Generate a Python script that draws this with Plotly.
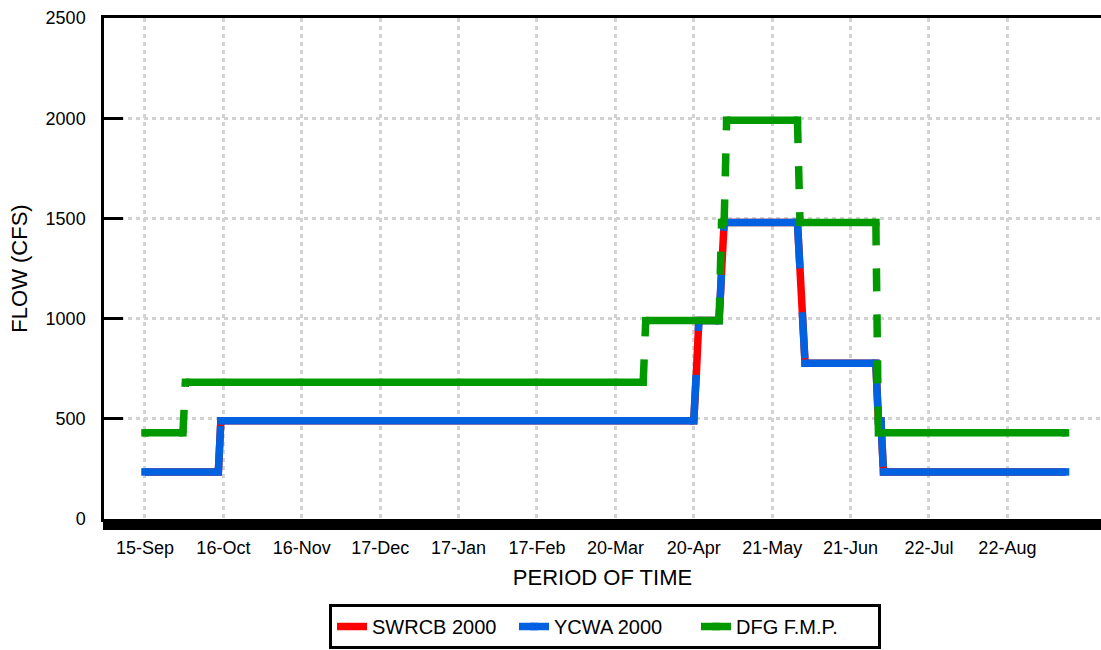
import plotly.graph_objects as go
import pandas as pd

START = "2000-09-15"

# x-axis labels (every 31 days)
tick_dates = ["2000-09-15", "2000-10-16", "2000-11-16", "2000-12-17", "2001-01-17", "2001-02-17",
              "2001-03-20", "2001-04-20", "2001-05-21", "2001-06-21", "2001-07-22", "2001-08-22"]
tick_labels = ["15-Sep", "16-Oct", "16-Nov", "17-Dec", "17-Jan", "17-Feb",
               "20-Mar", "20-Apr", "21-May", "21-Jun", "22-Jul", "22-Aug"]
y_ticks = [0, 500, 1000, 1500, 2000, 2500]
y_grid = [500, 1000, 1500, 2000]

# SWRCB 2000 (breakpoints of the daily series)
swrcb_dates = ["2000-09-15", "2000-10-14", "2000-10-15", "2001-04-20", "2001-04-21", "2001-04-22",
               "2001-04-30", "2001-05-01", "2001-05-02", "2001-05-31", "2001-06-01", "2001-06-02",
               "2001-06-03", "2001-07-01", "2001-07-02", "2001-07-03", "2001-07-04", "2001-09-14"]
swrcb_flow = [235, 235, 490, 490, 720, 990,
              990, 1240, 1480, 1480, 1265, 920,
              777, 777, 490, 490, 235, 235]

# YCWA 2000
ycwa_dates = ["2000-09-15", "2000-10-14", "2000-10-15", "2001-04-20", "2001-04-21", "2001-04-22",
              "2001-04-30", "2001-05-01", "2001-05-02", "2001-05-31", "2001-06-01", "2001-06-02",
              "2001-06-03", "2001-07-01", "2001-07-02", "2001-07-03", "2001-07-04", "2001-09-14"]
ycwa_flow = [235, 235, 490, 490, 720, 990,
             990, 1240, 1480, 1480, 1265, 920,
             777, 777, 490, 490, 235, 235]

# DFG F.M.P.
dfg_dates = ["2000-09-15", "2000-09-30", "2000-10-01", "2001-03-31", "2001-04-01", "2001-04-30",
             "2001-05-01", "2001-05-02", "2001-05-03", "2001-05-31", "2001-06-01", "2001-07-01",
             "2001-07-02", "2001-09-14"]
dfg_flow = [430, 430, 682, 682, 990, 990,
            1480, 1480, 1990, 1990, 1480, 1480,
            430, 430]

RED = "#FF0000"
BLUE = "#0062E0"
GREEN = "#009A00"
LW = 7.5
FONT = "Arial, 'Liberation Sans', sans-serif"


def split_runs(dates, vals):
    """Split a polyline into flat runs and changing (transition) runs."""
    n = len(vals)
    flat = [vals[i] == vals[i + 1] for i in range(n - 1)]
    groups = []
    s = 0
    for k in range(1, n - 1):
        if flat[k] != flat[k - 1]:
            groups.append((flat[k - 1], s, k))
            s = k
    groups.append((flat[n - 2], s, n - 1))
    return groups


def add_series(fig, name, dates, vals, color, dash):
    groups = split_runs(dates, vals)
    hx, hy = [], []
    for is_flat, s, e in groups:
        if is_flat:
            hx += list(dates[s:e + 1]) + [None]
            hy += list(vals[s:e + 1]) + [None]
    # transitions (dash pattern restarts for each run)
    for is_flat, s, e in groups:
        if not is_flat:
            fig.add_trace(go.Scatter(x=dates[s:e + 1], y=vals[s:e + 1], mode="lines",
                                     line=dict(color=color, width=LW, dash=dash),
                                     showlegend=False, hoverinfo="skip"))
    fig.add_trace(go.Scatter(x=hx, y=hy, mode="lines+markers", name=name,
                             line=dict(color=color, width=LW),
                             marker=dict(symbol="square", size=LW, color=color, line=dict(width=0)),
                             connectgaps=False, showlegend=True))


fig = go.Figure()

# SWRCB drawn solid underneath
fig.add_trace(go.Scatter(x=swrcb_dates, y=swrcb_flow, mode="lines", name="SWRCB 2000",
                         line=dict(color=RED, width=LW)))
add_series(fig, "YCWA 2000", ycwa_dates, ycwa_flow, BLUE, "46px,44px")
add_series(fig, "DFG F.M.P.", dfg_dates, dfg_flow, GREEN, "23px,23px")

start = pd.Timestamp(START)
x0 = (start - pd.Timedelta(days=16.21)).isoformat()
x1 = (start + pd.Timedelta(days=378.02)).isoformat()

GRIDC = "#d2d2d2"

fig.update_layout(
    width=1101, height=650,
    margin=dict(l=104, r=0, t=18, b=131, autoexpand=False),
    plot_bgcolor="white", paper_bgcolor="white",
    font=dict(family=FONT, color="black"),
    legend=dict(orientation="h", xref="container", yref="container",
                x=605 / 1101, xanchor="center", y=1 - 604 / 650, yanchor="top",
                bordercolor="black", borderwidth=3, bgcolor="white",
                font=dict(size=20, family=FONT, color="black"),
                entrywidth=137, entrywidthmode="pixels", traceorder="normal"),
    xaxis=dict(type="date", range=[x0, x1], tickmode="array", tickvals=tick_dates, ticktext=tick_labels,
               ticks="outside", ticklen=8, tickwidth=2.6, tickcolor="black",
               showline=True, linecolor="black", linewidth=2.5, mirror=True,
               showgrid=True, gridcolor=GRIDC, gridwidth=3, griddash="4px,4px",
               zeroline=False, automargin=False,
               tickfont=dict(size=18, family=FONT, color="black"), ticklabelstandoff=3,
               minor=dict(ticks="outside", ticklen=8, tickwidth=2.6, tickcolor="black",
                          dtick=86400000, tick0=START, showgrid=False),
               title=dict(text="PERIOD OF TIME", font=dict(size=22, family=FONT, color="black"), standoff=13)),
    yaxis=dict(range=[0, 2500], tickmode="array", tickvals=y_ticks,
               ticks="inside", ticklen=19, tickwidth=3, tickcolor="black",
               showline=True, linecolor="black", linewidth=2.5,
               showgrid=False, zeroline=False, automargin=False,
               tickfont=dict(size=18, family=FONT, color="black"), ticklabelstandoff=12,
               minor=dict(tickmode="array", tickvals=y_grid, ticks="", showgrid=True,
                          gridcolor=GRIDC, gridwidth=3, griddash="4px,4px"),
               title=dict(text="FLOW (CFS)", font=dict(size=22, family=FONT, color="black"), standoff=12)),
)

fig.write_html("out.html", config={"displayModeBar": False},
               post_script="document.body.style.margin='0';")
